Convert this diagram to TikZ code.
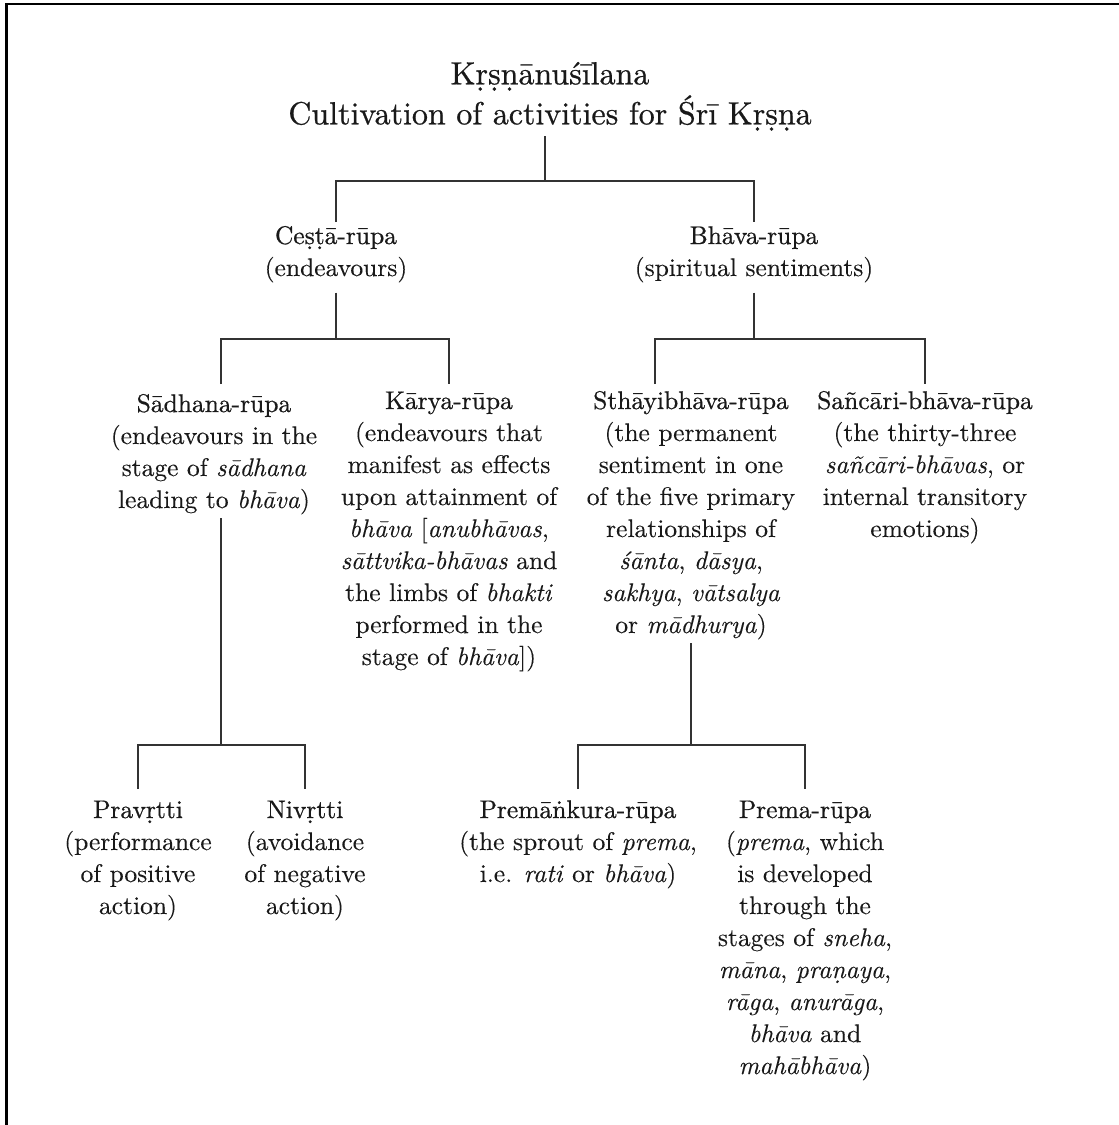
\documentclass[tikz,border=0pt]{standalone}
\usepackage{fontspec}
\setmainfont{lmroman10-regular.otf}[FakeBold=0.2, ItalicFont=lmroman10-italic.otf, ItalicFeatures={FakeBold=0.2}, BoldFont=lmroman10-bold.otf]
\newfontfamily\headf{lmroman10-regular.otf}[FakeBold=0.7]
\def\hdh{18pt}\def\ddp{9pt}
\newcommand{\hd}[1]{{\headf\rule{0pt}{\hdh}#1}}
\begin{document}
\begin{tikzpicture}[x=1pt,y=-1pt,
  txt/.style={align=center, anchor=north, inner sep=0pt, outer sep=4pt,
    text=black!90, font=\fontsize{25.5}{32}\selectfont,
    execute at end node={\rule[-\ddp]{0pt}{\ddp}}},
  lvone/.style={txt, execute at begin node={\def\hdh{18pt}\def\ddp{12.5pt}}},
  lvtwo/.style={txt, execute at begin node={\def\hdh{21pt}\def\ddp{8pt}}},
  lvthree/.style={txt, execute at begin node={\def\hdh{25pt}\def\ddp{8pt}}},
  ttl/.style={txt, font=\fontsize{32}{40}\selectfont,
    execute at begin node={\def\hdh{20pt}\def\ddp{8pt}}},
  conn/.style={draw=black!80, line width=1.7pt}]
\useasboundingbox (0,0) rectangle (1119,1125);
\draw[line width=2.5pt] (6.5,1125) -- (6.5,4) -- (1119,4);

\node[ttl] (root) at (550,58) {\hd{Kṛṣṇānuśīlana}\\\hd{Cultivation of activities for Śrī Kṛṣṇa}};

\node[lvone] (cesta) at (336,222) {\hd{Ceṣṭā-rūpa}\\(endeavours)};
\node[lvone] (bhava) at (754,222) {\hd{Bhāva-rūpa}\\(spiritual sentiments)};

\node[lvtwo, execute at begin node={\def\hdh{24pt}\def\ddp{6pt}}] (sadhana) at (214,384) {\hd{Sādhana-rūpa}\\(endeavours in the\\stage of \textit{sādhana}\\leading to \textit{bhāva})};
\node[lvtwo] (karya) at (449,384) {\hd{Kārya-rūpa}\\(endeavours that\\manifest as effects\\upon attainment of\\\textit{bhāva} [\textit{anubhāvas},\\\textit{sāttvika-bhāvas} and\\the limbs of \textit{bhakti}\\performed in the\\stage of \textit{bhāva}])};
\node[lvtwo, execute at begin node={\def\ddp{5pt}}] (sthayi) at (691,384) {\hd{Sthāyibhāva-rūpa}\\(the permanent\\sentiment in one\\of the five primary\\relationships of\\\textit{śānta}, \textit{dāsya},\\\textit{sakhya}, \textit{vātsalya}\\or \textit{mādhurya})};
\node[lvtwo] (sancari) at (925,384) {\hd{Sañcāri-bhāva-rūpa}\\(the thirty-three\\\textit{sañcāri-bhāvas}, or\\internal transitory\\emotions)};

\node[lvthree] (pravrtti) at (138,789) {\hd{Pravṛtti}\\(performance\\of positive\\action)};
\node[lvthree] (nivrtti) at (305,789) {\hd{Nivṛtti}\\(avoidance\\of negative\\action)};
\node[lvthree] (premankura) at (578,789) {\hd{Premāṅkura-rūpa}\\(the sprout of \textit{prema},\\i.e. \textit{rati} or \textit{bhāva})};
\node[lvthree] (prema) at (805,789) {\hd{Prema-rūpa}\\(\textit{prema}, which\\is developed\\through the\\stages of \textit{sneha},\\\textit{māna}, \textit{praṇaya},\\\textit{rāga}, \textit{anurāga},\\\textit{bhāva} and\\\textit{mahābhāva})};

% junctions
\coordinate (j1) at (545,181);
\coordinate (j2) at (336,339);
\coordinate (j3) at (754,339);
\coordinate (j4) at (221,745);
\coordinate (j5) at (691,745);

\draw[conn] (root.south -| j1) -- (j1);
\draw[conn] (cesta.north) |- (j1) -| (bhava.north);

\draw[conn] (cesta.south) -- (j2);
\draw[conn] ([xshift=7pt]sadhana.north) |- (j2) -| (karya.north);
\draw[conn] (bhava.south) -- (j3);
\draw[conn] ([xshift=-36pt]sthayi.north) |- (j3) -| (sancari.north);

\draw[conn] ([xshift=7pt]sadhana.south) -- (j4);
\draw[conn] (pravrtti.north) |- (j4) -| (nivrtti.north);
\draw[conn] (sthayi.south) -- (j5);
\draw[conn] (premankura.north) |- (j5) -| (prema.north);
\end{tikzpicture}
\end{document}
